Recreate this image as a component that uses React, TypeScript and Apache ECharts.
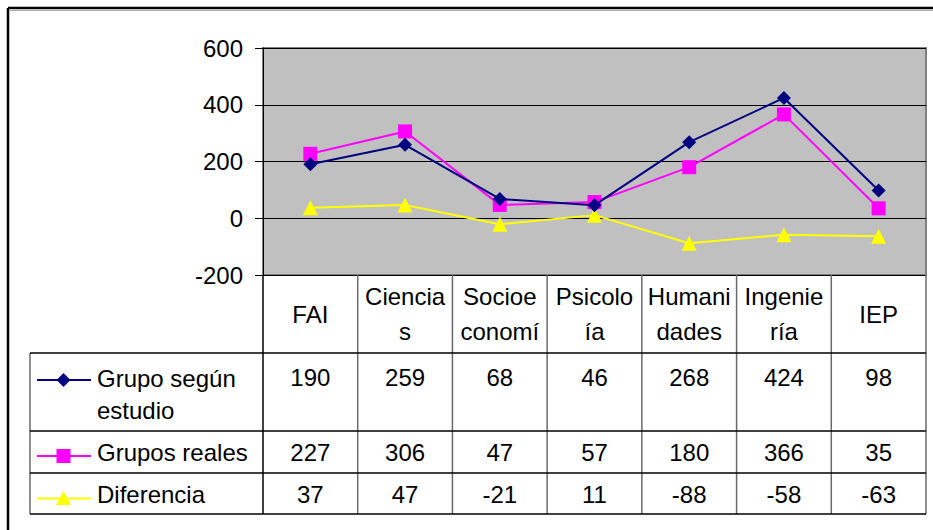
import React, { useEffect, useRef } from "react";
import * as echarts from "echarts";

const categories = ["FAI", "Ciencias", "Socioeconomía", "Psicología", "Humanidades", "Ingeniería", "IEP"];
const headerLabels = ["FAI", "Ciencia\ns", "Socioe\nconomí", "Psicolo\nía", "Humani\ndades", "Ingenie\nría", "IEP"];
const seriesNames = ["Grupo según estudio", "Grupos reales", "Diferencia"];
const legendLabels = ["Grupo según\nestudio", "Grupos reales", "Diferencia"];
const grupoSegunEstudio = [190, 259, 68, 46, 268, 424, 98];
const gruposReales = [227, 306, 47, 57, 180, 366, 35];
const diferencia = [37, 47, -21, 11, -88, -58, -63];
const yTicks = { min: -200, max: 600, interval: 200 };

const FONT = "'Liberation Sans', Arial, sans-serif";
const FS = 24;
const COLORS = ["#000080", "#FF00FF", "#FFFF00"];

const PLOT_L = 263;
const PLOT_R = 926;
const PLOT_T = 48;
const PLOT_B = 275;
const W = 933;
const H = 530;

const ROW_LINES = [353, 431, 473, 514];
const LEG_L = 30;

export default function App() {
  const ref = useRef<HTMLDivElement>(null);
  useEffect(() => {
    if (!ref.current) return;
    const chart = echarts.init(ref.current, undefined, { renderer: "svg" });
    const values = [grupoSegunEstudio, gruposReales, diferencia];
    const symbols = ["diamond", "rect", "triangle"];
    const sizes = [14, 14, 15];
    chart.setOption({
      animation: false,
      backgroundColor: "#ffffff",
      grid: {
        left: PLOT_L,
        right: W - PLOT_R,
        top: PLOT_T,
        bottom: H - PLOT_B,
        show: true,
        backgroundColor: "#C0C0C0",
        borderColor: "#808080",
        borderWidth: 2,
      },
      xAxis: {
        type: "category",
        data: categories,
        boundaryGap: true,
        axisLine: { show: false },
        axisTick: { show: false },
        axisLabel: { show: false },
        splitLine: { show: false },
      },
      yAxis: {
        type: "value",
        min: yTicks.min,
        max: yTicks.max,
        interval: yTicks.interval,
        axisLine: { show: true, lineStyle: { color: "#000", width: 1 } },
        axisTick: { show: true, length: 8, lineStyle: { color: "#000" } },
        axisLabel: { color: "#000", fontSize: FS, fontFamily: FONT, margin: 20 },
        splitLine: { show: true, lineStyle: { color: "#000", width: 1 } },
      },
      series: values.map((d, i) => ({
        name: seriesNames[i],
        type: "line",
        data: d,
        symbol: symbols[i],
        symbolSize: sizes[i],
        showAllSymbol: true,
        lineStyle: { color: COLORS[i], width: 2 },
        itemStyle: { color: COLORS[i], borderWidth: 0 },
        z: 3 - i + 2,
      })),
    });

    // Build data table using axis scale positions
    const colW = (PLOT_R - PLOT_L) / categories.length;
    const centers = categories.map((_, i) => chart.convertToPixel({ xAxisIndex: 0 }, i) as number);
    const g: any[] = [];
    // outer border
    g.push({ type: "line", shape: { x1: 8, y1: 8, x2: W, y2: 8 }, style: { stroke: "#000", lineWidth: 2.5 } });
    g.push({ type: "line", shape: { x1: 8, y1: 8, x2: 8, y2: H }, style: { stroke: "#000", lineWidth: 2.5 } });
    g.push({ type: "line", shape: { x1: 10, y1: 10.5, x2: W, y2: 10.5 }, style: { stroke: "#b0b0b0", lineWidth: 1 } });
    // vertical column lines
    for (let k = 0; k <= categories.length; k++) {
      const x = PLOT_L + k * colW;
      g.push({
        type: "line",
        shape: { x1: x, y1: PLOT_B, x2: x, y2: ROW_LINES[3] },
        style: { stroke: k === 0 ? "#000" : "#6a6a6a", lineWidth: 1.5 },
      });
    }
    // legend box left
    g.push({ type: "line", shape: { x1: LEG_L, y1: ROW_LINES[0], x2: LEG_L, y2: ROW_LINES[3] }, style: { stroke: "#6a6a6a", lineWidth: 1.5 } });
    ROW_LINES.forEach((y) => {
      g.push({ type: "line", shape: { x1: LEG_L, y1: y, x2: PLOT_R, y2: y }, style: { stroke: "#000", lineWidth: 1.5 } });
    });
    // header labels
    headerLabels.forEach((t, i) => {
      g.push({
        type: "text",
        x: centers[i],
        y: (PLOT_B + ROW_LINES[0]) / 2,
        style: { text: t, fill: "#000", font: `${FS}px ${FONT}`, align: "center", verticalAlign: "middle", lineHeight: 35 },
      });
    });
    const rowY = [377, 452, 494];
    values.forEach((d, r) => {
      d.forEach((v, i) => {
        g.push({
          type: "text",
          x: centers[i],
          y: rowY[r],
          style: { text: String(v), fill: "#000", font: `${FS}px ${FONT}`, align: "center", verticalAlign: "middle" },
        });
      });
    });
    // legend rows
    const legTextY = [394, 452, 494];
    const legLineY = [380, 456, 498.5];
    legendLabels.forEach((t, r) => {
      g.push({
        type: "text",
        x: 97,
        y: legTextY[r],
        style: { text: t, fill: "#000", font: `${FS}px ${FONT}`, align: "left", verticalAlign: "middle", lineHeight: 32 },
      });
      const ly = legLineY[r];
      g.push({ type: "line", shape: { x1: 37, y1: ly, x2: 91, y2: ly }, style: { stroke: COLORS[r], lineWidth: 2 } });
      const cx = 63.5;
      const s = sizes[r] / 2;
      if (r === 0) {
        g.push({ type: "polygon", shape: { points: [[cx, ly - s], [cx + s, ly], [cx, ly + s], [cx - s, ly]] }, style: { fill: COLORS[r] } });
      } else if (r === 1) {
        g.push({ type: "rect", shape: { x: cx - s, y: ly - s, width: s * 2, height: s * 2 }, style: { fill: COLORS[r] } });
      } else {
        g.push({ type: "polygon", shape: { points: [[cx, ly - s], [cx + s, ly + s * 0.85], [cx - s, ly + s * 0.85]] }, style: { fill: COLORS[r] } });
      }
    });
    chart.setOption({ graphic: g });
    return () => chart.dispose();
  }, []);
  return <div ref={ref} style={{ position: "fixed", left: 0, top: 0, width: W, height: H }} />;
}
